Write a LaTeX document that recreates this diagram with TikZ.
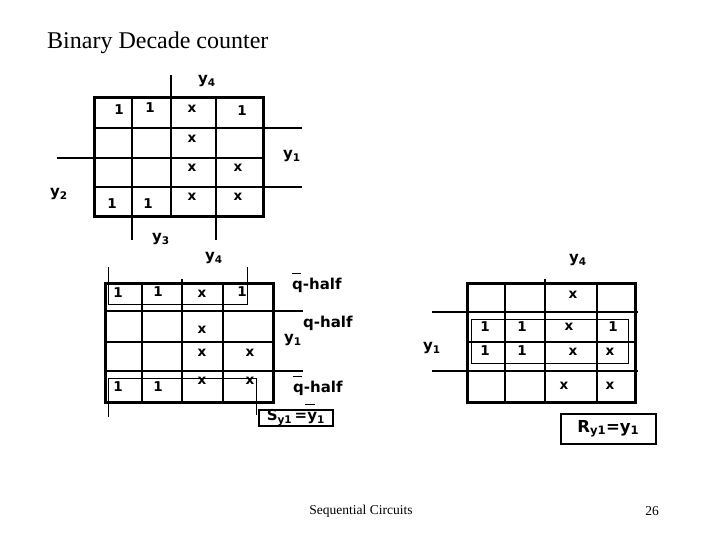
\documentclass[tikz,border=0pt]{standalone}
\usepackage{fontspec}
\setmainfont{Liberation Serif}
\newfontfamily\mapfont[BoldFont={DejaVu Sans Bold}]{DejaVu Sans}
\newcommand{\yy}[1]{y\textsubscript{#1}}
\newcommand{\qbarr}{\rlap{\smash{\raisebox{1.0em}{\rule{0.6em}{1.3pt}}}}q}
\begin{document}
\begin{tikzpicture}[x=1pt,y=-1pt,
  grid/.style={line width=3pt, line cap=rect},
  inner/.style={line width=2.4pt},
  thinl/.style={line width=1.6pt},
  loopl/.style={line width=0.8pt},
  ent/.style={font=\mapfont\bfseries\fontsize{13.5}{13.5}\selectfont, inner sep=0pt},
  lab/.style={font=\mapfont\bfseries\fontsize{15}{15}\selectfont, inner sep=0pt},
  boxl/.style={draw, line width=1.6pt, font=\mapfont\bfseries\fontsize{15}{15}\selectfont, inner sep=0pt, minimum width=#1, minimum height=16pt},
  plain/.style={font=\fontsize{#1}{#1}\selectfont, inner sep=0pt}]
\useasboundingbox (0,0) rectangle (720,540);
\node[plain=24, anchor=west] (title) at (47,43) {Binary Decade counter};
\node[plain=13.5] (foot) at (361,511) {Sequential Circuits};
\node[plain=13.5] (page) at (652,511) {26};

% ---------- top map ----------
\draw[inner] (132,98) -- (132,240);
\draw[inner] (171,75) -- (171,217);
\draw[thinl] (216,98) -- (216,217);
\draw[inner] (216,217) -- (216,240);
\draw[thinl] (94,128) -- (302,128);
\draw[inner] (57,158) -- (263,158);
\draw[thinl] (94,187) -- (302,187);
\draw[grid] (94,98) rectangle (263,217);
\node[lab] (t4) at (207,81) {\yy{4}};
\node[lab] (t1) at (292,156) {\yy{1}};
\node[lab] (t2) at (59,194) {\yy{2}};
\node[lab] (t3) at (161,239) {\yy{3}};
\node[ent] (ta1) at (119,110) {1};
\node[ent] (ta2) at (150,108) {1};
\node[ent] (ta3) at (192,109) {x};
\node[ent] (ta4) at (242,111) {1};
\node[ent] (tb3) at (192,139) {x};
\node[ent] (tc3) at (192,168) {x};
\node[ent] (tc4) at (238,168) {x};
\node[ent] (td1) at (112,204) {1};
\node[ent] (td2) at (148,204) {1};
\node[ent] (td3) at (192,197) {x};
\node[ent] (td4) at (238,197) {x};

% ---------- bottom-left map ----------
\draw[inner] (142,283) -- (142,402);
\draw[inner] (182,279) -- (182,402);
\draw[inner] (223,283) -- (223,402);
\draw[inner] (105,311) -- (303,311);
\draw[inner] (105,342) -- (273,342);
\draw[inner] (105,371) -- (303,371);
\draw[grid] (105,283) rectangle (273,402);
\draw[loopl] (108,267) -- (108,304) -- (247,304) -- (247,267);
\draw[loopl] (108,417) -- (108,378) -- (256,378) -- (256,415);
\node[lab] (l4) at (214,258) {\yy{4}};
\node[lab, anchor=west] (lq1) at (292,285) {\qbarr-half};
\node[lab, anchor=west] (lq2) at (303,323) {q-half};
\node[lab] (l1) at (293,340) {\yy{1}};
\node[lab, anchor=west] (lq3) at (293,388) {\qbarr-half};
\node[boxl=74pt, minimum height=16pt, anchor=north west] (sbox) at (258,409) {S\textsubscript{y1}\,=y\textsubscript{1}};
\draw[loopl] (305,404) -- (315,404);
\node[ent] (la1) at (118,293) {1};
\node[ent] (la2) at (158,292) {1};
\node[ent] (la3) at (202,294) {x};
\node[ent] (la4) at (242,292) {1};
\node[ent] (lb3) at (202,330) {x};
\node[ent] (lc3) at (202,353) {x};
\node[ent] (lc4) at (250,353) {x};
\node[ent] (ld1) at (118,387) {1};
\node[ent] (ld2) at (158,387) {1};
\node[ent] (ld3) at (202,381) {x};
\node[ent] (ld4) at (250,381) {x};

% ---------- bottom-right map ----------
\draw[inner] (505,283) -- (505,402);
\draw[inner] (545,279) -- (545,402);
\draw[inner] (597,283) -- (597,402);
\draw[thinl] (432,312) -- (638,312);
\draw[inner] (467,342) -- (635,342);
\draw[thinl] (432,371) -- (638,371);
\draw[grid] (467,283) rectangle (635,402);
\draw[loopl] (471,319) rectangle (628,363);
\node[lab] (r4) at (578,260) {\yy{4}};
\node[lab] (r1) at (432,348) {\yy{1}};
\node[boxl=95pt, minimum height=30pt, anchor=north west, font=\mapfont\bfseries\fontsize{16.5}{16.5}\selectfont] (rbox) at (560,413) {R\textsubscript{y1}=y\textsubscript{1}};
\node[ent] (ra3) at (573,295) {x};
\node[ent] (rb1) at (485,327) {1};
\node[ent] (rb2) at (522,327) {1};
\node[ent] (rb3) at (569,327) {x};
\node[ent] (rb4) at (613,327) {1};
\node[ent] (rc1) at (485,351) {1};
\node[ent] (rc2) at (522,351) {1};
\node[ent] (rc3) at (573,352) {x};
\node[ent] (rc4) at (610,352) {x};
\node[ent] (rd3) at (564,386) {x};
\node[ent] (rd4) at (610,386) {x};
\end{tikzpicture}
\end{document}
